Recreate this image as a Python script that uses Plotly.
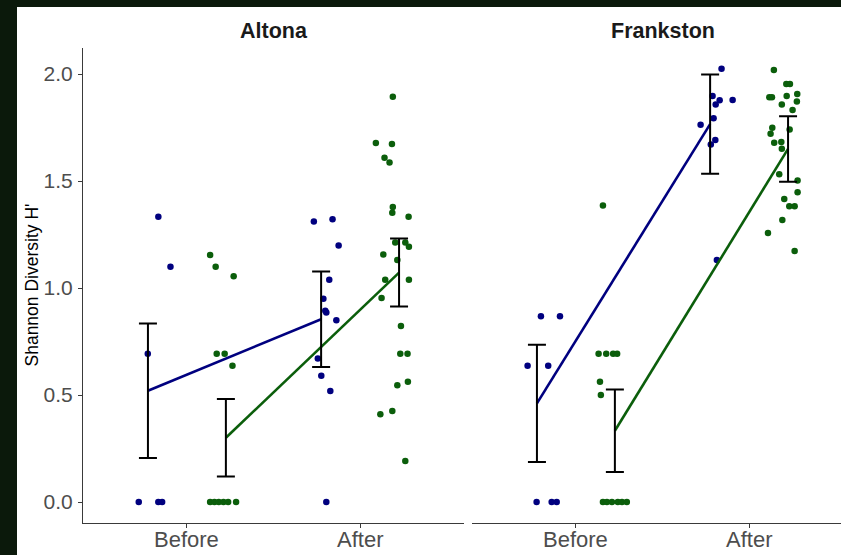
import plotly.graph_objects as go

# ---------------- data ----------------
time_labels = ["Before", "After"]
time_pos = [1, 2]
site_names = ["Altona", "Frankston"]
y_title = "Shannon Diversity H'"

# Altona, blue group
alt_blue_before_x = [0.835, 0.905, 0.774, 0.722, 0.835, 0.857]
alt_blue_before_y = [1.333, 1.099, 0.693, 0.0, 0.0, 0.0]
alt_blue_after_x = [1.733, 1.841, 1.876, 1.822, 1.788, 1.799, 1.805, 1.863, 1.756, 1.776, 1.828, 1.805]
alt_blue_after_y = [1.311, 1.321, 1.199, 1.039, 0.950, 0.894, 0.886, 0.849, 0.671, 0.590, 0.519, 0.0]
# Altona, green group
alt_green_before_x = [1.134, 1.166, 1.270, 1.172, 1.218, 1.263, 1.134, 1.159, 1.184, 1.211, 1.238, 1.284]
alt_green_before_y = [1.154, 1.099, 1.055, 0.693, 0.693, 0.637, 0.0, 0.0, 0.0, 0.0, 0.0, 0.0]
alt_green_after_x = [2.189, 2.091, 2.184, 2.141, 2.170, 2.189, 2.186, 2.280, 2.203, 2.261, 2.282, 2.134,
                     2.215, 2.145, 2.282, 2.124, 2.236, 2.232, 2.274, 2.215, 2.276, 2.186, 2.117, 2.261]
alt_green_after_y = [1.894, 1.678, 1.673, 1.609, 1.587, 1.379, 1.352, 1.333, 1.213, 1.213, 1.193, 1.157,
                     1.131, 1.039, 1.039, 0.953, 0.822, 0.693, 0.693, 0.545, 0.562, 0.425, 0.410, 0.192]

# Frankston, blue group
fra_blue_before_x = [0.798, 0.908, 0.721, 0.840, 0.773, 0.860, 0.889]
fra_blue_before_y = [0.868, 0.868, 0.637, 0.637, 0.0, 0.0, 0.0]
fra_blue_after_x = [1.841, 1.789, 1.830, 1.807, 1.905, 1.795, 1.720, 1.805, 1.779, 1.814]
fra_blue_after_y = [2.025, 1.897, 1.877, 1.858, 1.879, 1.793, 1.763, 1.692, 1.671, 1.131]
# Frankston, green group
fra_green_before_x = [1.156, 1.131, 1.175, 1.215, 1.238, 1.139, 1.144, 1.156, 1.179, 1.208, 1.242, 1.266, 1.294]
fra_green_before_y = [1.386, 0.693, 0.693, 0.693, 0.693, 0.562, 0.500, 0.0, 0.0, 0.0, 0.0, 0.0, 0.0]
fra_green_after_x = [2.143, 2.215, 2.236, 2.117, 2.132, 2.217, 2.278, 2.276, 2.189, 2.251, 2.134, 2.234, 2.124,
                     2.145, 2.186, 2.189, 2.174, 2.280, 2.280, 2.203, 2.232, 2.263, 2.192, 2.109, 2.263]
fra_green_after_y = [2.019, 1.953, 1.953, 1.891, 1.891, 1.897, 1.907, 1.872, 1.858, 1.832, 1.749, 1.741, 1.721,
                     1.679, 1.682, 1.651, 1.531, 1.502, 1.447, 1.416, 1.382, 1.382, 1.318, 1.257, 1.173]

# means (Before, After) and error half-widths
alt_blue_mean = [0.520, 0.854]
alt_blue_err = [0.314, 0.223]
alt_green_mean = [0.300, 1.072]
alt_green_err = [0.181, 0.159]
fra_blue_mean = [0.461, 1.766]
fra_blue_err = [0.274, 0.232]
fra_green_mean = [0.333, 1.650]
fra_green_err = [0.193, 0.153]

y_ticks = [0.0, 0.5, 1.0, 1.5, 2.0]

# ---------------- styling ----------------
W, H = 841, 555
BLUE = "#00007f"
GREEN = "#0b5e0b"
DODGE = 0.225
AXIS_COL = "#3a3a3a"
FONT = "Liberation Sans, Arial, sans-serif"
YTICK_FONT = dict(family=FONT, size=21, color="#4d4d4d")
XTICK_FONT = dict(family=FONT, size=22, color="#4d4d4d")

# pixel layout
px_left1, px_right1 = 83, 464
px_left2, px_right2 = 472, 841
px_top, px_bottom = 48, 523
unit_px = (px_right1 - px_left1) / 2.2

fig = go.Figure()

groups = [
    ("x", "y", [
        (BLUE, -DODGE, alt_blue_before_x, alt_blue_before_y, alt_blue_after_x, alt_blue_after_y, alt_blue_mean, alt_blue_err),
        (GREEN, DODGE, alt_green_before_x, alt_green_before_y, alt_green_after_x, alt_green_after_y, alt_green_mean, alt_green_err),
    ]),
    ("x2", "y2", [
        (BLUE, -DODGE, fra_blue_before_x, fra_blue_before_y, fra_blue_after_x, fra_blue_after_y, fra_blue_mean, fra_blue_err),
        (GREEN, DODGE, fra_green_before_x, fra_green_before_y, fra_green_after_x, fra_green_after_y, fra_green_mean, fra_green_err),
    ]),
]

for xa, ya, series in groups:
    for col, dodge, bx, by, ax_, ay, m, e in series:
        fig.add_trace(go.Scatter(
            x=bx + ax_, y=by + ay, mode="markers", xaxis=xa, yaxis=ya,
            marker=dict(color=col, size=6.5, line=dict(width=0)),
            showlegend=False, hoverinfo="skip"))
    for col, dodge, bx, by, ax_, ay, m, e in series:
        fig.add_trace(go.Scatter(
            x=[t + dodge for t in time_pos], y=m, mode="lines", xaxis=xa, yaxis=ya,
            line=dict(color=col, width=2.6), showlegend=False, hoverinfo="skip"))
    for col, dodge, bx, by, ax_, ay, m, e in series:
        fig.add_trace(go.Scatter(
            x=[t + dodge for t in time_pos], y=m, mode="markers", xaxis=xa, yaxis=ya,
            marker=dict(size=1, opacity=0),
            error_y=dict(type="data", array=e, visible=True, color="black",
                         thickness=2, width=9),
            showlegend=False, hoverinfo="skip"))

y_lo = -(px_bottom - 502) / 214.0
y_hi = 2.0 + (74 - px_top) / 214.0

xcommon = dict(
    tickvals=time_pos, showticklabels=False,
    showgrid=False, zeroline=False, showline=True, linecolor=AXIS_COL, linewidth=1.2,
    ticks="outside", ticklen=4, tickcolor=AXIS_COL, tickwidth=1.2, fixedrange=True,
)
fig.update_layout(
    width=W, height=H,
    margin=dict(l=0, r=0, t=0, b=0),
    paper_bgcolor="white", plot_bgcolor="white",
    showlegend=False,
    xaxis=dict(domain=[px_left1 / W, px_right1 / W],
               range=[0.4, 2.6], anchor="y", **xcommon),
    xaxis2=dict(domain=[px_left2 / W, px_right2 / W],
                range=[0.4, 0.4 + (px_right2 - px_left2) / unit_px], anchor="y2", **xcommon),
    yaxis=dict(domain=[1 - px_bottom / H, 1 - px_top / H], range=[y_lo, y_hi],
               tickvals=y_ticks, tickformat=".1f", tickfont=YTICK_FONT,
               showgrid=False, zeroline=False, showline=True, linecolor=AXIS_COL, linewidth=1.2,
               ticks="outside", ticklen=4, tickcolor=AXIS_COL, tickwidth=1.2,
               anchor="x", ticklabelstandoff=1),
    yaxis2=dict(domain=[1 - px_bottom / H, 1 - px_top / H], range=[y_lo, y_hi],
                matches="y", anchor="x2", showticklabels=False, showline=False,
                showgrid=False, zeroline=False, ticks=""),
)

# x tick labels (placed on each panel's own x scale)
for xref in ["x", "x2"]:
    for pos, lab in zip(time_pos, time_labels):
        fig.add_annotation(
            x=pos, y=1 - 539 / H, xref=xref, yref="paper", text=lab, showarrow=False,
            xanchor="center", yanchor="middle", font=XTICK_FONT)

# y axis title
fig.add_annotation(
    x=31 / W, y=1 - ((px_top + px_bottom) / 2) / H, xref="paper", yref="paper",
    text=y_title, textangle=-90, showarrow=False, xanchor="center", yanchor="middle",
    font=dict(family=FONT, size=17.5, color="black"))

# facet titles
for name, xl, xr in [(site_names[0], px_left1, px_right1),
                     (site_names[1], px_left2, px_left2 + 2.2 * unit_px)]:
    fig.add_annotation(
        x=((xl + xr) / 2) / W, y=1 - 31 / H, xref="paper", yref="paper",
        text="<b>%s</b>" % name, showarrow=False, xanchor="center", yanchor="middle",
        font=dict(family=FONT, size=21.5, color="#1a1a1a"))

# dark frame around the image (left and top strips)
BORDER = "#0b190b"
fig.add_shape(type="rect", xref="paper", yref="paper", x0=0, x1=17 / W, y0=0, y1=1,
              fillcolor=BORDER, line=dict(width=0), layer="above")
fig.add_shape(type="rect", xref="paper", yref="paper", x0=0, x1=1, y0=1 - 7 / H, y1=1,
              fillcolor=BORDER, line=dict(width=0), layer="above")

fig.write_html("out.html")
